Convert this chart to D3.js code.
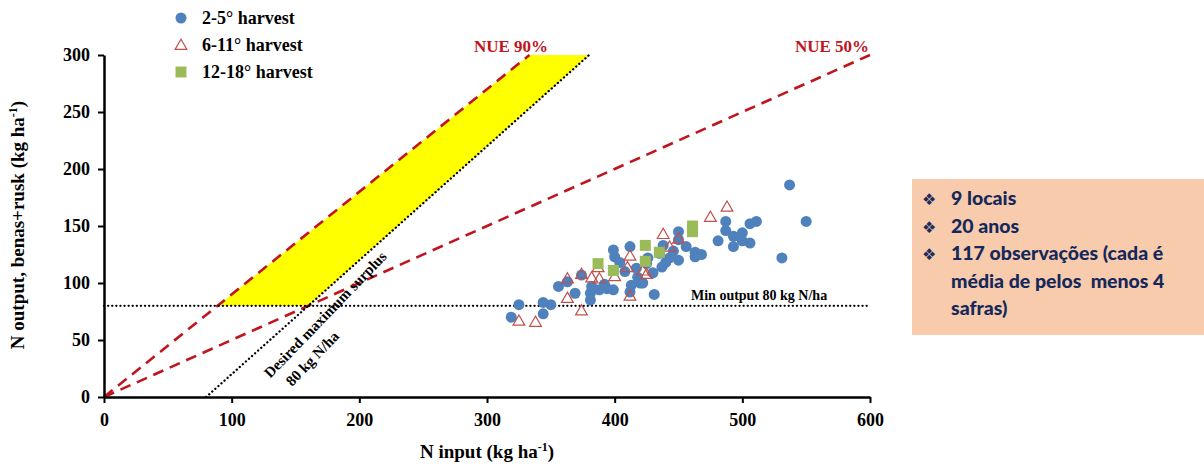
<html>
<head>
<meta charset="utf-8">
<script src="https://d3js.org/d3.v7.min.js"></script>
<style>
body { margin: 0; background: #fff; }
.serif { font-family: "Liberation Serif", "Times New Roman", serif; font-weight: bold; }
</style>
</head>
<body>
<div id="chart"></div>
<script>
// harvest groups, N input vs N output (kg/ha)
var harvest25 = [
  [319,70],[325,81],[344,83],[350,81],[344,73],[356,97],[363,101],[369,91],[374,107],[381,91],
  [381,85],[382,97],[388,94],[394,95],[399,94],[399,129],[400,123],[412,132],[412,92],[418,105],
  [420,100],[422,100],[430,109],[437,114],[435,126],[438,133],[443,122],[450,120],[450,138],[450,145],
  [463,127],[463,123],[468,125],[481,137],[487,154],[487,146],[493,141],[500,144],[500,137],[493,132],
  [506,152],[506,135],[511,154],[531,122],[537,186],[550,154],[431,90],[425,117],[417,113],[404,118],
  [408,110],[392,99],[413,98],[426,122],[446,128],[456,132],[440,118]
];
var harvest611 = [
  [325,66],[338,65],[363,86],[363,103],[374,75],[374,107],[382,104],[388,103],[387,113],[400,105],
  [410,113],[412,123],[412,88],[422,110],[425,107],[438,142],[443,131],[450,138],[475,157],[488,166]
];
var harvest1218 = [
  [387,117],[399,111],[424,133],[424,119],[435,127],[461,150],[461,145]
];
var legendLabels = ["2-5° harvest", "6-11° harvest", "12-18° harvest"];
var xTicks = [0, 100, 200, 300, 400, 500, 600];
var yTicks = [0, 50, 100, 150, 200, 250, 300];
// reference lines
var nue90 = [[0,0],[333.3,300]];
var nue50 = [[0,0],[600,300]];
var surplusLine = [[80,0],[380,300]];
var minOutput = [[0,80],[600,80]];
var targetArea = [[89,80],[160,80],[380,300],[333.3,300]];
var boxLines = ["9 locais", "20 anos", "117 observações (cada é", "média de pelos  menos 4", "safras)"];
var boxBullets = [true, true, true, false, false];

var W = 1204, H = 468;
var x = d3.scaleLinear().domain([0, 600]).range([104, 870]);
var y = d3.scaleLinear().domain([0, 300]).range([397, 55]);

var svg = d3.select("#chart").append("svg")
  .attr("width", W).attr("height", H);

var red = "#c0141e";
var line = d3.line().x(function(d){ return x(d[0]); }).y(function(d){ return y(d[1]); });

svg.append("path")
  .datum(targetArea)
  .attr("d", line.curve(d3.curveLinearClosed))
  .style("fill", "#ffff00");
line.curve(d3.curveLinear);

[nue90, nue50].forEach(function(l){
  svg.append("path").datum(l).attr("d", line)
    .style("fill", "none").style("stroke", red)
    .style("stroke-width", 2.6).style("stroke-dasharray", "11,7");
});
[surplusLine, minOutput].forEach(function(l){
  svg.append("path").datum(l).attr("d", line)
    .style("fill", "none").style("stroke", "#000")
    .style("stroke-width", 2.3).style("stroke-linecap", "round")
    .style("stroke-dasharray", "0.1,4");
});

// axes
var xAxis = svg.append("g").attr("transform", "translate(0," + y(0) + ")")
  .call(d3.axisBottom(x).tickValues(xTicks).tickSize(6).tickSizeOuter(0).tickPadding(10));
var yAxis = svg.append("g").attr("transform", "translate(" + x(0) + ",0)")
  .call(d3.axisLeft(y).tickValues(yTicks).tickSize(6).tickSizeOuter(0).tickPadding(8));
[xAxis, yAxis].forEach(function(a){
  a.select(".domain").style("stroke-width", 2.5);
  a.selectAll(".tick line").style("stroke-width", 2);
  a.selectAll("text").attr("class", "serif").style("font-size", "18px").style("fill", "#000");
});

svg.append("text").attr("class", "serif")
  .attr("x", 487).attr("y", 458).attr("text-anchor", "middle")
  .style("font-size", "19px")
  .call(function(t){
    t.append("tspan").text("N input (kg ha");
    t.append("tspan").attr("dy", -7).style("font-size", "12px").text("-1");
    t.append("tspan").attr("dy", 7).text(")");
  });
svg.append("text").attr("class", "serif")
  .attr("transform", "translate(24,225) rotate(-90)").attr("text-anchor", "middle")
  .style("font-size", "19px")
  .call(function(t){
    t.append("tspan").text("N output, benas+rusk (kg ha");
    t.append("tspan").attr("dy", -7).style("font-size", "12px").text("-1");
    t.append("tspan").attr("dy", 7).text(")");
  });

// points
var sym = d3.symbol();
svg.append("g").selectAll("circle").data(harvest25).enter().append("circle")
  .attr("cx", function(d){ return x(d[0]); }).attr("cy", function(d){ return y(d[1]); })
  .attr("r", 5.5).style("fill", "#4f81bd");
svg.append("g").selectAll("path").data(harvest611).enter().append("path")
  .attr("transform", function(d){ return "translate(" + x(d[0]) + "," + y(d[1]) + ")"; })
  .attr("d", sym.type(d3.symbolTriangle).size(60))
  .style("fill", "none").style("stroke", "#c0504d").style("stroke-width", 1.2);
svg.append("g").selectAll("rect").data(harvest1218).enter().append("rect")
  .attr("x", function(d){ return x(d[0]) - 5.5; }).attr("y", function(d){ return y(d[1]) - 5.5; })
  .attr("width", 11).attr("height", 11).style("fill", "#9bbb59");

// legend
var leg = svg.append("g");
leg.append("circle").attr("cx", 181).attr("cy", 18).attr("r", 5.5).style("fill", "#4f81bd");
leg.append("path").attr("transform", "translate(181,46)")
  .attr("d", d3.symbol().type(d3.symbolTriangle).size(60)())
  .style("fill", "none").style("stroke", "#c0504d").style("stroke-width", 1.2);
leg.append("rect").attr("x", 175.5).attr("y", 66.5).attr("width", 11).attr("height", 11).style("fill", "#9bbb59");
leg.selectAll("text").data(legendLabels).enter().append("text")
  .attr("class", "serif").attr("x", 202).attr("y", function(d, i){ return 18 + i * 27; })
  .attr("dy", "0.35em").style("font-size", "18px").text(function(d){ return d; });

// annotations
svg.append("text").attr("class", "serif").attr("x", 511).attr("y", 52)
  .attr("text-anchor", "middle").style("font-size", "17px").style("fill", red).text("NUE 90%");
svg.append("text").attr("class", "serif").attr("x", 832).attr("y", 52)
  .attr("text-anchor", "middle").style("font-size", "17px").style("fill", red).text("NUE 50%");
svg.append("text").attr("class", "serif").attr("x", 691).attr("y", 300)
  .style("font-size", "14px").text("Min output 80 kg N/ha");
svg.append("text").attr("class", "serif")
  .attr("transform", "translate(329,318) rotate(-46)").attr("text-anchor", "middle")
  .style("font-size", "15px").text("Desired maximum surplus");
svg.append("text").attr("class", "serif")
  .attr("transform", "translate(316,362) rotate(-46)").attr("text-anchor", "middle")
  .style("font-size", "15px").text("80 kg N/ha");

// info box
svg.append("rect").attr("x", 912).attr("y", 179).attr("width", 292).attr("height", 156)
  .style("fill", "#f8cbad");
var box = svg.append("g").selectAll("g").data(boxLines).enter().append("g")
  .attr("transform", function(d, i){ return "translate(0," + (205 + i * 27.5) + ")"; });
box.filter(function(d, i){ return boxBullets[i]; }).append("text")
  .attr("x", 922).style("font-family", "DejaVu Sans").style("font-size", "16px")
  .style("fill", "#1f2d5a").text("\u2756");
box.append("text").attr("x", 951)
  .style("font-family", "Lato, 'Open Sans', sans-serif").style("font-weight", "900")
  .style("white-space", "pre")
  .style("font-size", "19.5px").style("fill", "#14285a").text(function(d){ return d; });
</script>
</body>
</html>
